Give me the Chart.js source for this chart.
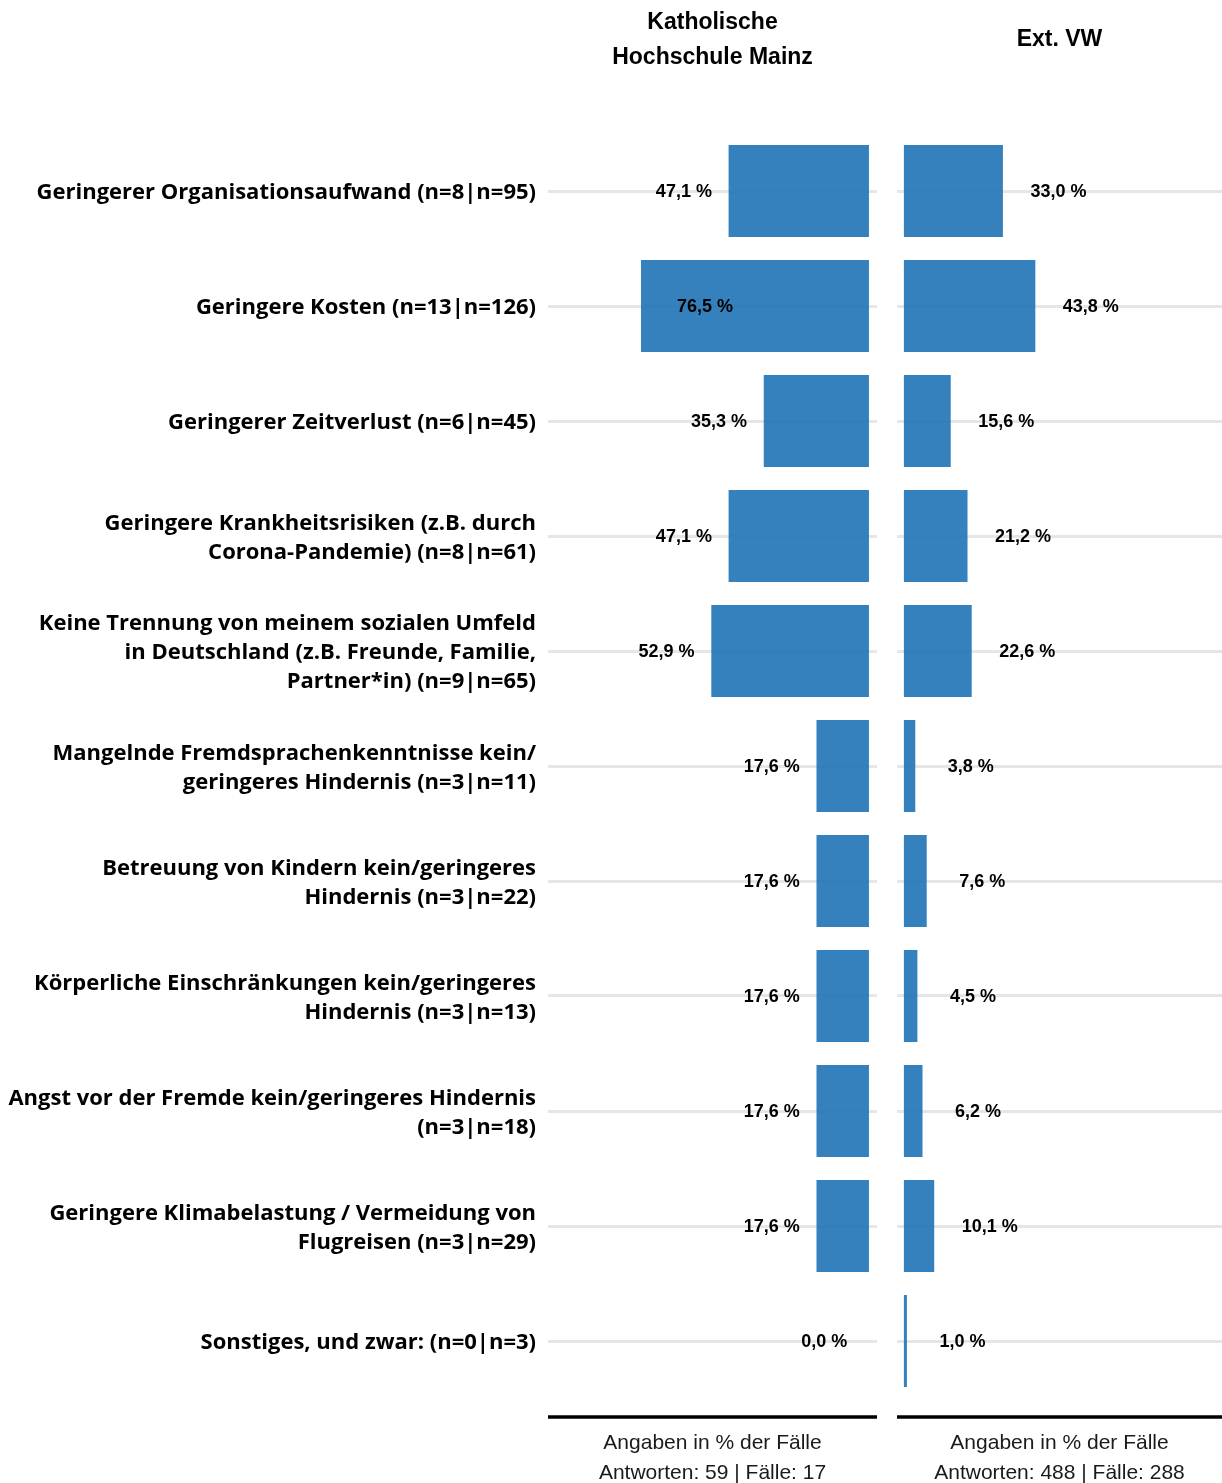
<!DOCTYPE html>
<html>
<head>
<meta charset="utf-8">
<script src="https://cdn.jsdelivr.net/npm/chart.js@4.4.1/dist/chart.umd.min.js"></script>
<style>
  html, body { margin: 0; padding: 0; background: #fff; overflow: hidden; }
  #wrap { position: relative; width: 1222px; height: 1483px; }
  #left { position: absolute; left: 0; top: 0; }
  #right { position: absolute; left: 897px; top: 0; }
</style>
</head>
<body>
<div id="wrap">
  <canvas id="left" width="877" height="1483" style="width:877px;height:1483px"></canvas>
  <canvas id="right" width="325" height="1483" style="width:325px;height:1483px"></canvas>
</div>
<script>
const categories = [
  'Geringerer Organisationsaufwand (n=8|n=95)',
  'Geringere Kosten (n=13|n=126)',
  'Geringerer Zeitverlust (n=6|n=45)',
  ['Geringere Krankheitsrisiken (z.B. durch', 'Corona-Pandemie) (n=8|n=61)'],
  ['Keine Trennung von meinem sozialen Umfeld', 'in Deutschland (z.B. Freunde, Familie,', 'Partner*in) (n=9|n=65)'],
  ['Mangelnde Fremdsprachenkenntnisse kein/', 'geringeres Hindernis (n=3|n=11)'],
  ['Betreuung von Kindern kein/geringeres', 'Hindernis (n=3|n=22)'],
  ['Körperliche Einschränkungen kein/geringeres', 'Hindernis (n=3|n=13)'],
  ['Angst vor der Fremde kein/geringeres Hindernis', '(n=3|n=18)'],
  ['Geringere Klimabelastung / Vermeidung von', 'Flugreisen (n=3|n=29)'],
  'Sonstiges, und zwar: (n=0|n=3)'
];
const khmValues = [47.1, 76.5, 35.3, 47.1, 52.9, 17.6, 17.6, 17.6, 17.6, 17.6, 0.0];
const vwValues = [33.0, 43.8, 15.6, 21.2, 22.6, 3.8, 7.6, 4.5, 6.2, 10.1, 1.0];

const khmTitle = ['Katholische', 'Hochschule Mainz'];
const vwTitle = 'Ext. VW';
const khmFooter = ['Angaben in % der Fälle', 'Antworten: 59 | Fälle: 17'];
const vwFooter = ['Angaben in % der Fälle', 'Antworten: 488 | Fälle: 288'];

const barColor = 'rgba(31,115,183,0.9)';
const gridColor = '#e6e6e6';

Chart.defaults.font.family = 'Liberation Sans, Arial, sans-serif';
Chart.defaults.color = '#000';

function fmt(v) {
  return v.toFixed(1).replace('.', ',') + ' %';
}

// value labels next to the bars
function valueLabels(side) {
  return {
    id: 'valueLabels',
    afterDatasetsDraw(chart) {
      const ctx = chart.ctx;
      const xs = chart.scales.x;
      const meta = chart.getDatasetMeta(0);
      const data = chart.data.datasets[0].data;
      ctx.save();
      ctx.font = 'bold 18px Liberation Sans, Arial, sans-serif';
      ctx.fillStyle = '#000';
      ctx.textAlign = 'center';
      ctx.textBaseline = 'middle';
      meta.data.forEach((bar, i) => {
        const v = data[i];
        let pos;
        if (side === 'left') {
          pos = v + 15;
          if (pos > 90) pos = v - 21.5;
        } else {
          pos = v + 18.5;
        }
        ctx.fillText(fmt(v), xs.getPixelForValue(pos), bar.y + 1.5);
      });
      ctx.restore();
    }
  };
}

// thick black baseline under each panel
const baseLine = {
  id: 'baseLine',
  afterDraw(chart) {
    const a = chart.chartArea;
    const ctx = chart.ctx;
    ctx.save();
    ctx.strokeStyle = '#000';
    ctx.lineWidth = 3.5;
    ctx.beginPath();
    ctx.moveTo(a.left, a.bottom + 18.5);
    ctx.lineTo(a.right, a.bottom + 18.5);
    ctx.stroke();
    ctx.restore();
  }
};

function makeChart(id, values, opts) {
  return new Chart(document.getElementById(id), {
    type: 'bar',
    data: {
      labels: categories,
      datasets: [{
        data: values,
        backgroundColor: barColor,
        borderWidth: 0,
        categoryPercentage: 0.8,
        barPercentage: 1.0
      }]
    },
    options: {
      indexAxis: 'y',
      responsive: false,
      animation: false,
      layout: { padding: 0 },
      plugins: { legend: { display: false }, tooltip: { enabled: false } },
      scales: {
        x: {
          type: 'linear',
          position: 'bottom',
          reverse: opts.reverse,
          min: opts.min,
          max: opts.max,
          grid: { display: false },
          border: { display: false },
          ticks: { display: false },
          title: {
            display: true,
            text: opts.footer,
            color: '#1a1a1a',
            font: { size: 21, lineHeight: 1.43 },
            padding: { top: 0, bottom: -5 }
          },
          afterFit(s) { s.height = 84.5; }
        },
        xTop: {
          type: 'linear',
          position: 'top',
          reverse: opts.reverse,
          min: opts.min,
          max: opts.max,
          grid: { display: false },
          border: { display: false },
          ticks: { display: false },
          title: {
            display: true,
            text: opts.title,
            color: '#000',
            font: { size: 23, weight: 'bold', lineHeight: 1.52 },
            padding: { top: opts.titlePad, bottom: 0 }
          },
          afterFit(s) { s.height = 133.5; }
        },
        y: {
          type: 'category',
          position: 'left',
          grid: { offset: false, color: gridColor, lineWidth: 3, drawTicks: false },
          border: { display: false },
          ticks: {
            display: opts.showLabels,
            autoSkip: false,
            padding: 12,
            labelOffset: 2,
            color: '#000',
            font: { family: 'Open Sans, Noto Sans, sans-serif', size: 22, weight: 'bold', lineHeight: 1.32 }
          },
          afterFit(s) { s.width = opts.yWidth; }
        }
      }
    },
    plugins: [valueLabels(opts.side), baseLine]
  });
}

makeChart('left', khmValues, {
  side: 'left', reverse: true, min: -2.7, max: 107.7,
  title: khmTitle, titlePad: 5.5, footer: khmFooter,
  showLabels: true, yWidth: 548
});

makeChart('right', vwValues, {
  side: 'right', reverse: false, min: -2.3, max: 106,
  title: vwTitle, titlePad: 22.5, footer: vwFooter,
  showLabels: false, yWidth: 0
});
</script>
</body>
</html>
